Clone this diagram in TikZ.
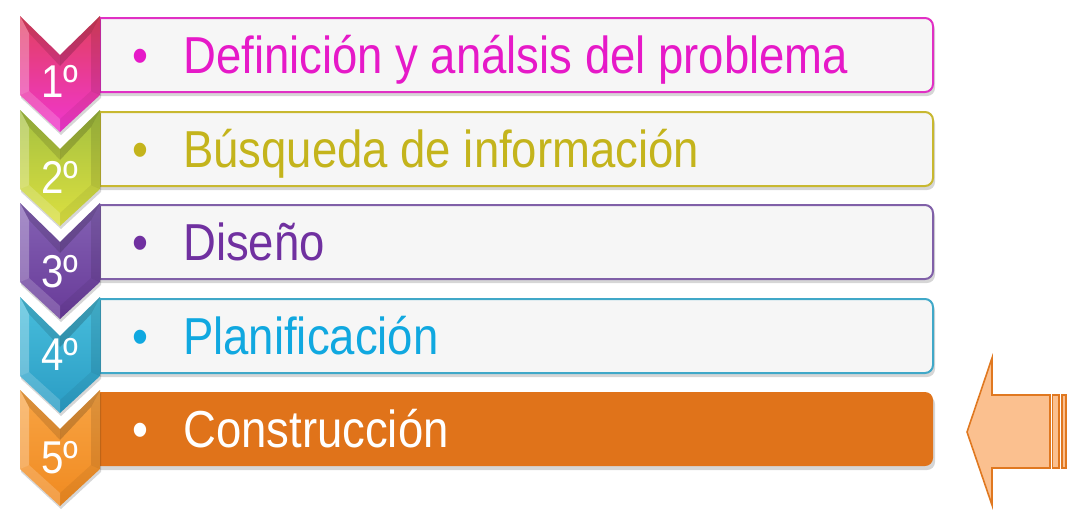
\documentclass[tikz,border=0pt]{standalone}
\usepackage{fontspec}
\newfontfamily\narrowfont[FakeStretch=0.875]{Liberation Sans}
\definecolor{t1}{HTML}{E619C8}
\definecolor{b1}{HTML}{E030C4}
\definecolor{ca1}{HTML}{E2405E}
\definecolor{cb1}{HTML}{F036D0}
\definecolor{t2}{HTML}{C4B41C}
\definecolor{b2}{HTML}{C8B830}
\definecolor{ca2}{HTML}{A4C040}
\definecolor{cb2}{HTML}{DCE040}
\definecolor{t3}{HTML}{7030A0}
\definecolor{b3}{HTML}{8060A8}
\definecolor{ca3}{HTML}{8462B4}
\definecolor{cb3}{HTML}{683A98}
\definecolor{t4}{HTML}{10A8E0}
\definecolor{b4}{HTML}{40A8C8}
\definecolor{ca4}{HTML}{48BEDC}
\definecolor{cb4}{HTML}{2A9CC4}
\definecolor{t5}{HTML}{FFFFFF}
\definecolor{b5}{HTML}{E0731A}
\definecolor{ca5}{HTML}{F8A444}
\definecolor{cb5}{HTML}{F08A20}
\definecolor{boxbg}{HTML}{F6F6F6}
\definecolor{arrowfill}{HTML}{FBC08F}
\definecolor{arrowline}{HTML}{E07820}
\begin{document}
\begin{tikzpicture}[x=1pt,y=-1pt,
  boxtext/.style={anchor=base west, inner sep=0pt, font=\fontsize{52}{52}\narrowfont},
  bullettext/.style={anchor=base, inner sep=0pt, font=\fontsize{52}{52}\narrowfont},
  numtext/.style={anchor=base west, inner sep=0pt, text=white, font=\fontsize{46}{46}\narrowfont},
  boxline/.style={line width=2pt},
  shadowfill/.style={fill=black, opacity=0.16},
  arrowstyle/.style={draw=arrowline, fill=arrowfill, line width=1.6pt, line join=miter}]
\useasboundingbox (0,0) rectangle (1084,525);
\fill[white] (0,0) rectangle (1084,525);
\foreach \i/\T/\nb/\txt in {1/16/97/Definición y análsis del problema,
                            2/110/193/Búsqueda de información,
                            3/203/287/Diseño,
                            4/297/370/Planificación,
                            5/390/473/Construcción}{
  % box shadow
  \fill[shadowfill, rounded corners=8pt] (100,{\T+6}) -- (935,{\T+6}) -- (935,{\T+80}) -- (100,{\T+80});
  % box
  \ifnum\i=5
    \fill[b5, rounded corners=8pt] (100,{\T+2}) -- (933,{\T+2}) -- (933,{\T+76}) -- (100,{\T+76});
  \else
    \filldraw[boxline, draw=b\i, fill=boxbg, rounded corners=8pt] (100,{\T+2}) -- (933,{\T+2}) -- (933,{\T+76}) -- (100,{\T+76});
    \draw[boxline, draw=b\i] (100,{\T+2}) -- (100,{\T+76});
  \fi
  % chevron shadow
  \fill[shadowfill] (21,{\T+3}) -- (61,{\T+42}) -- (101,{\T+3}) -- (101,{\T+82}) -- (61,{\T+119}) -- (21,{\T+82}) -- cycle;
  % chevron
  \path[top color=ca\i, bottom color=cb\i] (20,\T) -- (60,{\T+39}) -- (100,\T) -- (100,{\T+79}) -- (60,{\T+116}) -- (20,{\T+79}) -- cycle;
  % bevel facets
  \fill[white, opacity=0.28] (20,\T) -- (29,{\T+17}) -- (29,{\T+75}) -- (20,{\T+79}) -- cycle;
  \fill[black, opacity=0.12] (20,\T) -- (60,{\T+39}) -- (60,{\T+50}) -- (29,{\T+17}) -- cycle;
  \fill[black, opacity=0.18] (100,\T) -- (60,{\T+39}) -- (60,{\T+50}) -- (91,{\T+17}) -- cycle;
  \fill[black, opacity=0.10] (100,\T) -- (91,{\T+17}) -- (91,{\T+75}) -- (100,{\T+79}) -- cycle;
  \fill[white, opacity=0.18] (20,{\T+79}) -- (29,{\T+75}) -- (60,{\T+103}) -- (60,{\T+116}) -- cycle;
  \fill[black, opacity=0.06] (100,{\T+79}) -- (91,{\T+75}) -- (60,{\T+103}) -- (60,{\T+116}) -- cycle;
  % texts
  \node[numtext] (num\i) at (41,\nb) {{\i}º};
  \node[bullettext, text=t\i] (bul\i) at (140,{\T+57}) {•};
  \node[boxtext, text=t\i] (txt\i) at (183,{\T+57}) {\txt};
}
% right arrow
\coordinate (arrowtip) at (967,432);
\draw[arrowstyle] (arrowtip) -- (992,358) -- (992,395) -- (1050,395) -- (1050,468) -- (992,468) -- (992,505) -- cycle;
\draw[arrowstyle] (1052.5,395) rectangle (1059,468);
\draw[arrowstyle] (1062,395) rectangle (1066,468);
\end{tikzpicture}
\end{document}
